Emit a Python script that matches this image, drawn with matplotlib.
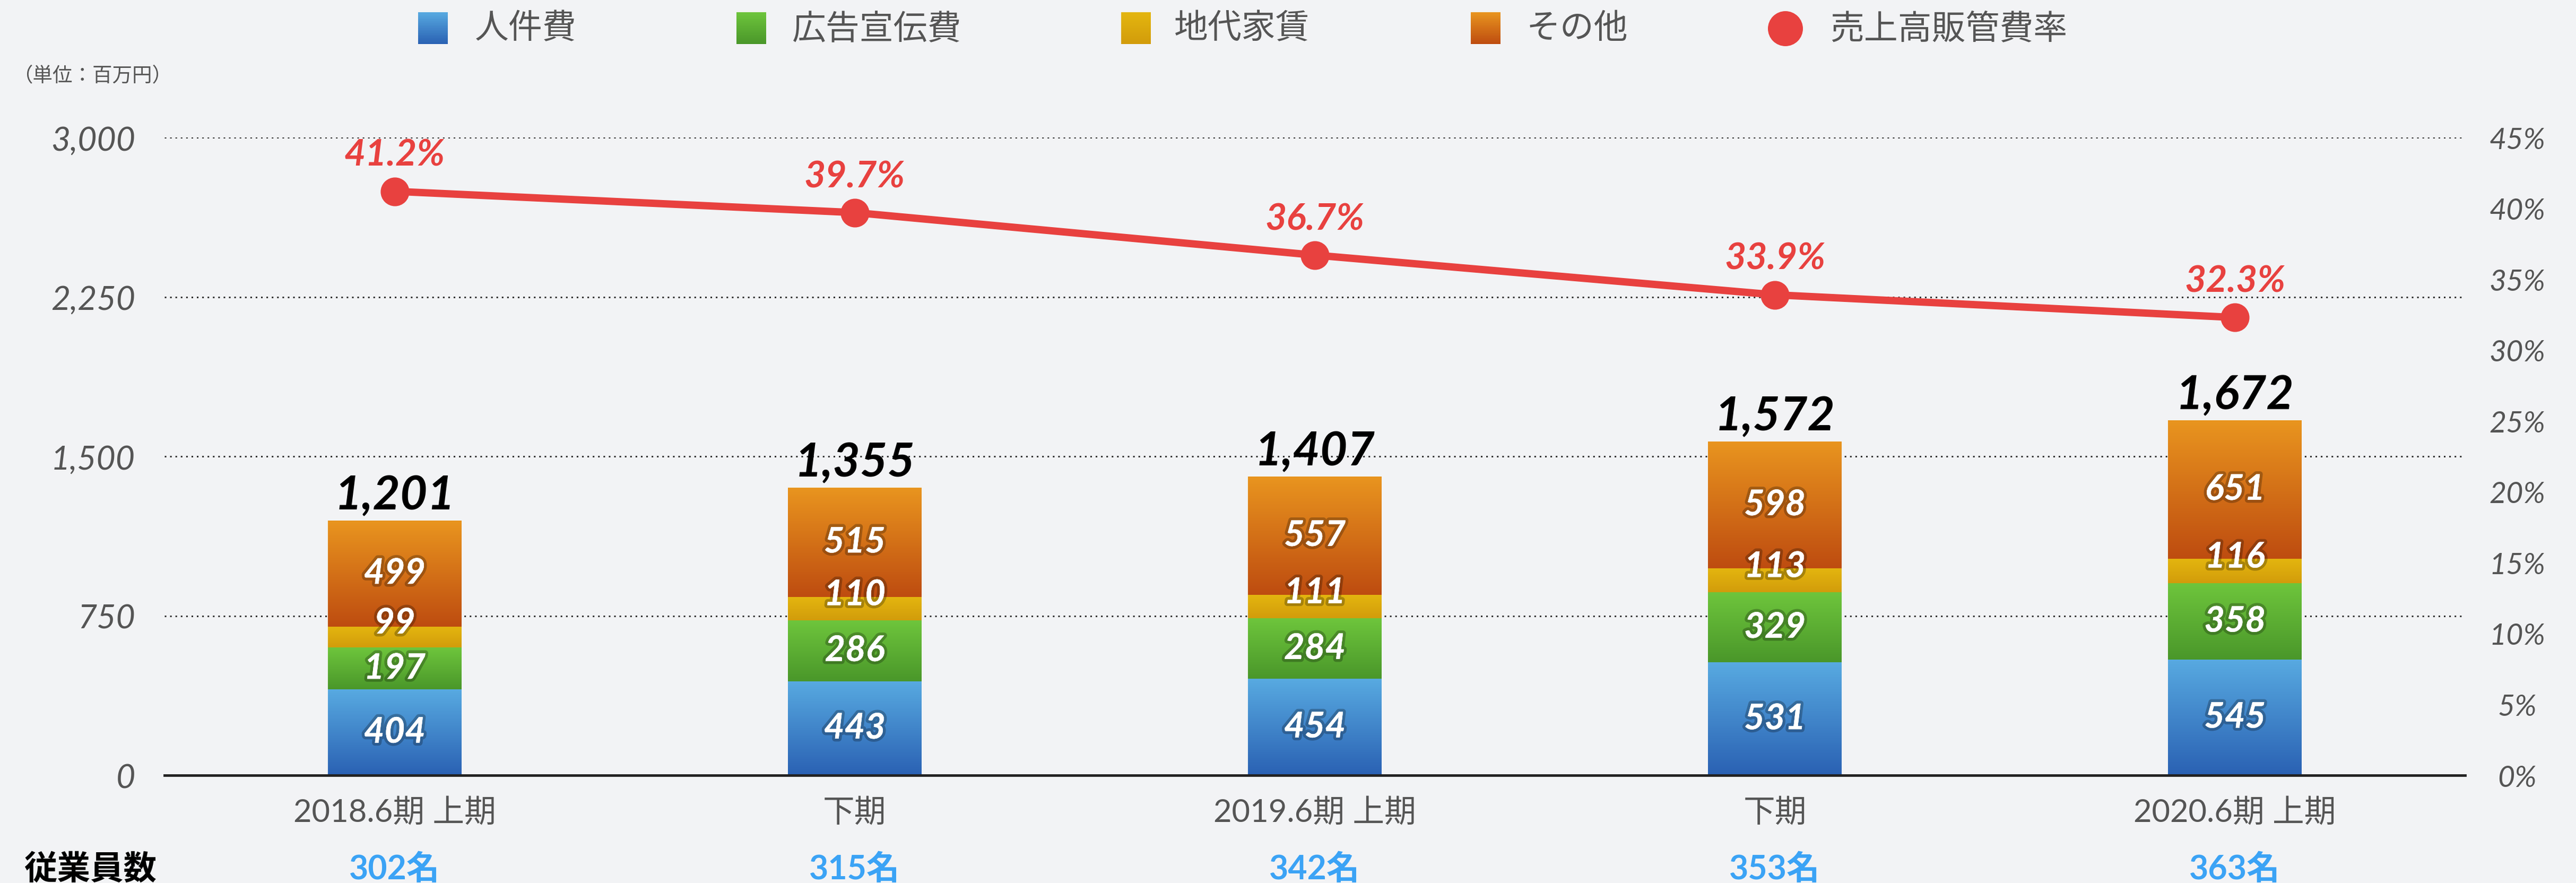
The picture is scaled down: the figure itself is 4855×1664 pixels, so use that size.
import numpy as np
import matplotlib
matplotlib.use("Agg")
import matplotlib.pyplot as plt
import matplotlib.patheffects as pe
from matplotlib.colors import LinearSegmentedColormap
from matplotlib.patches import Ellipse

plt.rcParams['font.family'] = ['Lato', 'Noto Sans CJK JP', 'DejaVu Sans']

# donnees
periods = ["2018.6期 上期", "下期", "2019.6期 上期", "下期", "2020.6期 上期"]
personnel = [404, 443, 454, 531, 545]
advertising = [197, 286, 284, 329, 358]
rent = [99, 110, 111, 113, 116]
other = [499, 515, 557, 598, 651]
totals = [1201, 1355, 1407, 1572, 1672]
sga_ratio = [41.2, 39.7, 36.7, 33.9, 32.3]
employees = [302, 315, 342, 353, 363]

series_names = ["人件費", "広告宣伝費", "地代家賃", "その他"]
ratio_name = "売上高販管費率"
left_ticks = [0, 750, 1500, 2250, 3000]
right_ticks = [0, 5, 10, 15, 20, 25, 30, 35, 40, 45]

# couleurs (bas, haut)
grads = [("#2A61B3", "#58AAE1"), ("#4A972A", "#6EC53C"),
         ("#D29C0B", "#E4B60F"), ("#BE4C10", "#E9951F")]
red = "#E8413F"
grey = "#555555"
bg = "#F2F3F5"

fig = plt.figure(figsize=(48.55, 16.65), dpi=100, facecolor=bg)
ax = fig.add_axes([0.0639, 0.1219, 0.893, 0.7219])
ax.set_facecolor('none')

x = np.arange(len(periods))
width = 0.29
bottom = np.zeros(len(periods))
shadow = [pe.withStroke(linewidth=8, foreground=(0, 0, 0, 0.25))]
label_shift = [0, 0, 65, 0]
grad = np.linspace(0, 1, 256).reshape(-1, 1)
cmaps = [LinearSegmentedColormap.from_list("g%d" % k, list(c)) for k, c in enumerate(grads)]

for k, vals in enumerate([personnel, advertising, rent, other]):
    vals = np.array(vals)
    bars = ax.bar(x, vals, width, bottom=bottom, color=grads[k][1], zorder=3, linewidth=0)
    for b in bars:
        x0, y0 = b.get_x(), b.get_y()
        im = ax.imshow(grad, cmap=cmaps[k], origin='lower', aspect='auto', zorder=3.1,
                       extent=[x0, x0 + b.get_width(), y0, y0 + b.get_height()])
        im.set_clip_path(b)
    for xi, v, b0 in zip(x, vals, bottom):
        t = ax.text(xi, b0 + v / 2 + label_shift[k], str(v), ha='center', va='center',
                    color='white', fontsize=48, fontweight='bold', fontstyle='italic', zorder=6)
        t.set_path_effects(shadow + [pe.Normal()])
    bottom = bottom + vals

for xi, t in zip(x, totals):
    ax.annotate(f"{t:,}", (xi, t), xytext=(0, 15), textcoords='offset points',
                ha='center', va='baseline', fontsize=64, fontweight='bold',
                fontstyle='italic', color='black', zorder=6)

ax.set_xlim(-0.5, 4.5)
ax.set_ylim(0, 3000)
ax.set_yticks(left_ticks)
ax.set_yticklabels([f"{v:,}" for v in left_ticks], fontsize=45, fontstyle='italic', color=grey)
ax.set_xticks(x)
ax.set_xticklabels(periods, fontsize=43, color=grey)
ax.tick_params(axis='y', length=0, pad=40)
ax.tick_params(axis='x', length=0, pad=30)
for g in left_ticks[1:]:
    ax.axhline(g, color='#333333', lw=2.2, linestyle=(0, (1, 2.3)), zorder=1)
for s in ['top', 'left', 'right']:
    ax.spines[s].set_visible(False)
ax.spines['bottom'].set_color('#222222')
ax.spines['bottom'].set_linewidth(3.5)
ax.spines['bottom'].set_zorder(4)

# ratio
ax2 = ax.twinx()
ax2.set_ylim(0, 45)
ax2.plot(x, sga_ratio, color=red, lw=10, marker='o', ms=38, zorder=5, solid_capstyle='round')
for xi, v in zip(x, sga_ratio):
    ax2.annotate(f"{v:.1f}%", (xi, v), xytext=(0, 35), textcoords='offset points',
                 ha='center', va='baseline', fontsize=50, fontweight='bold',
                 fontstyle='italic', color=red)
ax2.set_yticks(right_ticks)
ax2.set_yticklabels([f"{v}%" for v in right_ticks], fontsize=40, fontstyle='italic',
                    color=grey, ha='center')
ax2.tick_params(axis='y', length=0, pad=71)
for s in ax2.spines.values():
    s.set_visible(False)

# employes
fig.text(45 / 4855, 0.0162, "従業員数", ha='left', va='center', fontsize=45,
         fontweight='bold', color='black')
for xi, n in zip(x, employees):
    ax.annotate(f"{n}名", (xi, 0), xycoords=('data', 'figure fraction'),
                xytext=(xi, 0.0162), textcoords=('data', 'figure fraction'),
                ha='center', va='center', fontsize=45, fontweight='bold', color='#3BA3F5')

# unite
fig.text(25 / 4855, 1 - 142 / 1665, "（単位：百万円）", ha='left', va='center',
         fontsize=27, color=grey)

# legende
W, H = 4855, 1665
sq_left = [788, 1388, 2113, 2772]
txt_left = [895, 1493, 2213, 2877]
for k in range(4):
    lax = fig.add_axes([sq_left[k] / W, 1 - 84 / H, 56 / W, 60 / H])
    lax.imshow(grad[::-1], cmap=cmaps[k], aspect='auto')
    lax.axis('off')
    fig.text(txt_left[k] / W, 1 - 54 / H, series_names[k], ha='left', va='center',
             fontsize=46, color=grey)
fig.add_artist(Ellipse((3365 / W, 1 - 55 / H), 66 / W, 66 / H,
                       transform=fig.transFigure, color=red, lw=0))
fig.text(3449 / W, 1 - 54 / H, ratio_name, ha='left', va='center', fontsize=46, color=grey)

fig.savefig("out.png", dpi=100, facecolor=bg)
